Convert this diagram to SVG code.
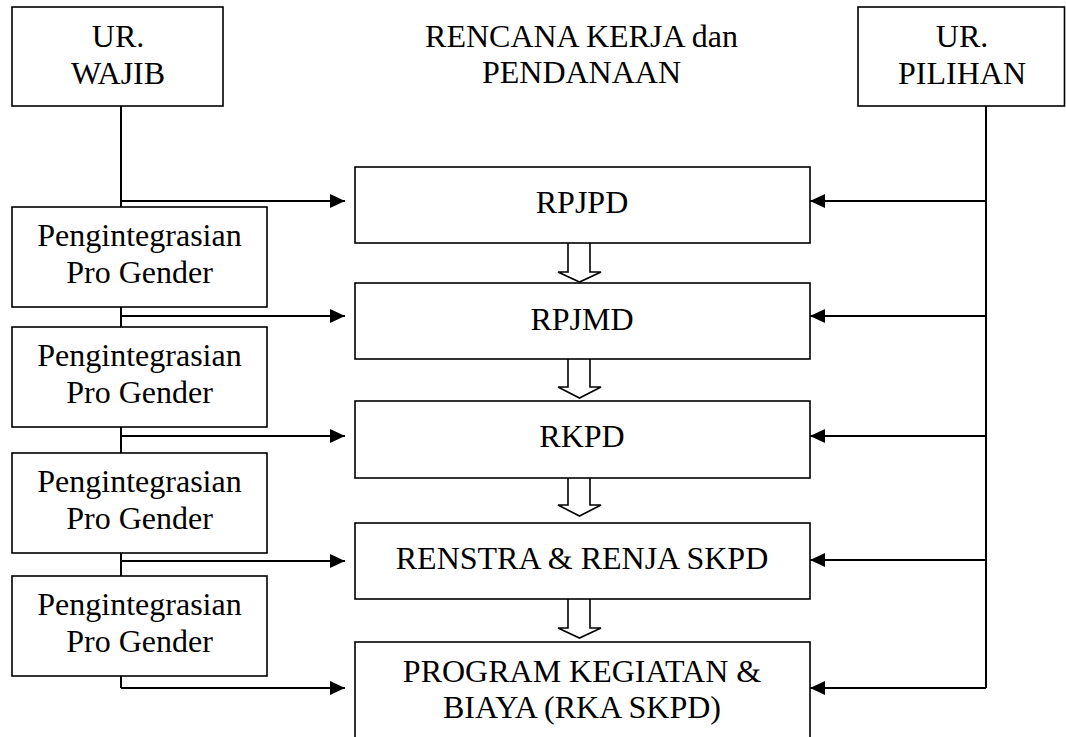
<svg xmlns="http://www.w3.org/2000/svg" width="1066" height="737" viewBox="0 0 1066 737">
<style>
.box{fill:#fff;stroke:#000;stroke-width:1.6}
.t{font-family:"Liberation Serif","Times New Roman",serif;font-size:32px;fill:#000;text-anchor:middle}
.ln{fill:none;stroke:#000;stroke-width:2}
.ha{fill:#fff;stroke:#000;stroke-width:1.6;stroke-linejoin:miter}
</style>
<defs>
<marker id="ah" markerWidth="15" markerHeight="14" refX="15" refY="7" orient="auto" markerUnits="userSpaceOnUse">
<path d="M0,0 L15,7 L0,14 Z" fill="#000"/>
</marker>
</defs>
<rect width="1066" height="737" fill="#fff"/>

<g id="connectors">
<path class="ln" d="M121,106 V207"/>
<path class="ln" d="M121,307 V327"/>
<path class="ln" d="M121,427 V453"/>
<path class="ln" d="M121,553 V576"/>
<path class="ln" d="M121,676 V688"/>
<path class="ln" d="M121,201 H345" marker-end="url(#ah)"/>
<path class="ln" d="M121,316 H345" marker-end="url(#ah)"/>
<path class="ln" d="M121,436 H345" marker-end="url(#ah)"/>
<path class="ln" d="M121,561 H345" marker-end="url(#ah)"/>
<path class="ln" d="M121,688 H345" marker-end="url(#ah)"/>
<path class="ln" d="M986,106 V688"/>
<path class="ln" d="M986,201 H810" marker-end="url(#ah)"/>
<path class="ln" d="M986,316 H810" marker-end="url(#ah)"/>
<path class="ln" d="M986,436 H810" marker-end="url(#ah)"/>
<path class="ln" d="M986,560 H810" marker-end="url(#ah)"/>
<path class="ln" d="M986,688 H810" marker-end="url(#ah)"/>
<path class="ha" d="M568,243 V272 H558 L579.5,282 L601,272 H590 V243"/>
<path class="ha" d="M568,359 V387 H558 L579.5,398 L601,387 H590 V359"/>
<path class="ha" d="M568,478 V505 H558 L579.5,516 L601,505 H590 V478"/>
<path class="ha" d="M568,599 V628 H558 L579.5,638 L601,628 H590 V599"/>
</g>

<g id="ur-wajib">
<rect class="box" x="12" y="7" width="211" height="99"/>
<text class="t" x="118" y="47">UR.</text>
<text class="t" x="118" y="84">WAJIB</text>
</g>

<g id="title">
<text class="t" x="581.5" y="47">RENCANA KERJA dan</text>
<text class="t" x="581.5" y="83">PENDANAAN</text>
</g>

<g id="ur-pilihan">
<rect class="box" x="858" y="7" width="206.5" height="99"/>
<text class="t" x="962" y="47">UR.</text>
<text class="t" x="962" y="84">PILIHAN</text>
</g>

<g id="gender1">
<rect class="box" x="12" y="207" width="255" height="100"/>
<text class="t" x="139.5" y="246">Pengintegrasian</text>
<text class="t" x="139.5" y="283">Pro Gender</text>
</g>
<g id="gender2">
<rect class="box" x="12" y="327" width="255" height="100"/>
<text class="t" x="139.5" y="366">Pengintegrasian</text>
<text class="t" x="139.5" y="403">Pro Gender</text>
</g>
<g id="gender3">
<rect class="box" x="12" y="453" width="255" height="100"/>
<text class="t" x="139.5" y="492">Pengintegrasian</text>
<text class="t" x="139.5" y="529">Pro Gender</text>
</g>
<g id="gender4">
<rect class="box" x="12" y="576" width="255" height="100"/>
<text class="t" x="139.5" y="615">Pengintegrasian</text>
<text class="t" x="139.5" y="652">Pro Gender</text>
</g>

<g id="rpjpd">
<rect class="box" x="355" y="167" width="455" height="76"/>
<text class="t" x="582" y="213">RPJPD</text>
</g>
<g id="rpjmd">
<rect class="box" x="355" y="283" width="455" height="76"/>
<text class="t" x="582" y="330">RPJMD</text>
</g>
<g id="rkpd">
<rect class="box" x="355" y="401" width="455" height="77"/>
<text class="t" x="582" y="447">RKPD</text>
</g>
<g id="renstra">
<rect class="box" x="355" y="523" width="455" height="76"/>
<text class="t" x="582" y="569">RENSTRA &amp; RENJA SKPD</text>
</g>
<g id="program">
<rect class="box" x="355" y="642" width="455" height="100"/>
<text class="t" x="582" y="682">PROGRAM KEGIATAN &amp;</text>
<text class="t" x="582" y="718">BIAYA (RKA SKPD)</text>
</g>
</svg>
